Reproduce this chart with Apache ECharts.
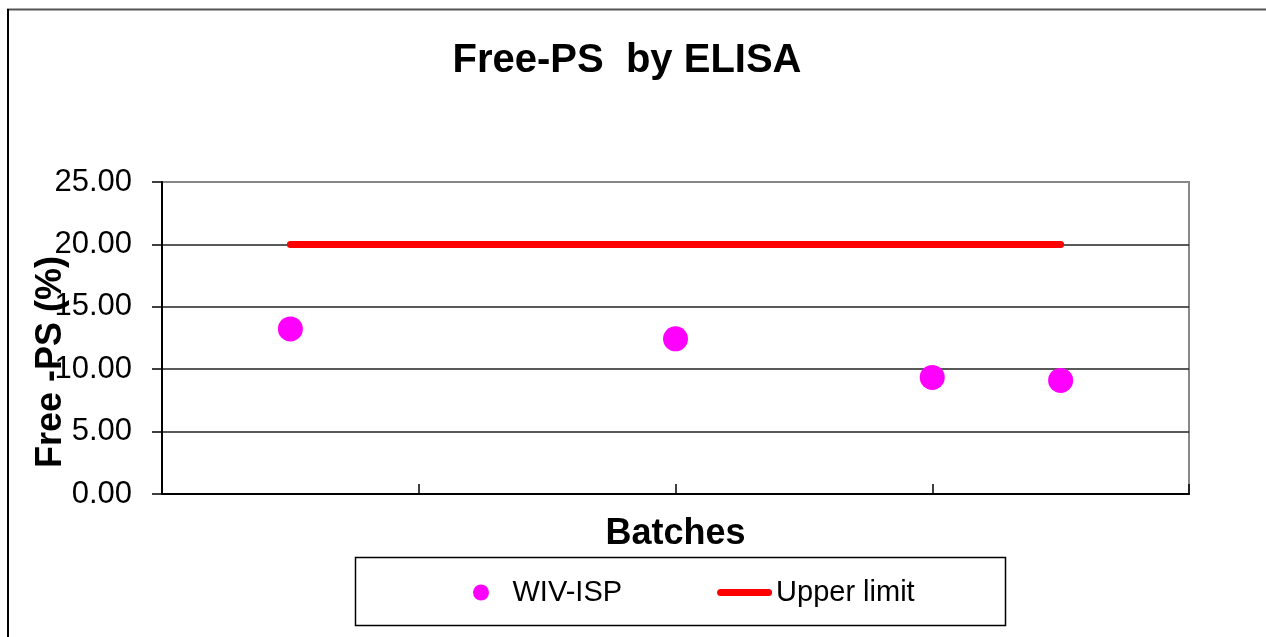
<!DOCTYPE html>
<html>
<head>
<meta charset="utf-8">
<title>Free-PS by ELISA</title>
<script src="https://cdn.jsdelivr.net/npm/echarts@6/dist/echarts.min.js"></script>
<style>
  html, body { margin: 0; padding: 0; background: #fff; }
  #chart { width: 1266px; height: 637px; }
</style>
</head>
<body>
<div id="chart"></div>
<script>
// Batch positions along the x axis and measured free-PS values (%)
const batchPositions = [1, 4, 6, 7];
const freePsValues = [13.23, 12.43, 9.34, 9.10];
// Specification limit drawn across the batch range
const upperLimitPositions = [1, 7];
const upperLimitValues = [20, 20];
const yTickValues = [0, 5, 10, 15, 20, 25];

const FONT = '"Liberation Sans", Arial, sans-serif';

const chart = echarts.init(document.getElementById('chart'), null, { renderer: 'canvas' });

const option = {
  backgroundColor: '#ffffff',
  animation: false,
  title: {
    text: 'Free-PS  by ELISA',
    left: 622,
    top: 36,
    textAlign: 'center',
    textStyle: { fontFamily: FONT, fontSize: 40, fontWeight: 'bold', color: '#000' }
  },
  grid: {
    left: 162, top: 182, right: 77, bottom: 143,
    show: true, borderColor: '#888', borderWidth: 2, backgroundColor: 'transparent'
  },
  legend: {
    left: 468, top: 573,
    itemWidth: 55, itemHeight: 16, itemGap: 95,
    symbolKeepAspect: true,
    textStyle: { fontFamily: FONT, fontSize: 29, color: '#000', padding: [0, 0, 0, -1] },
    data: [
      { name: 'WIV-ISP', icon: 'circle' },
      { name: 'Upper limit', icon: 'path://M3.5,0 H51.5 A3.5,3.5 0 0 1 51.5,7 H3.5 A3.5,3.5 0 0 1 3.5,0 Z' }
    ]
  },
  xAxis: {
    type: 'value', min: 0, max: 8, interval: 2,
    axisLine: { lineStyle: { color: '#000', width: 2 } },
    axisTick: { inside: true, length: 10, lineStyle: { color: '#000', width: 1.5 } },
    axisLabel: { show: false },
    splitLine: { show: false },
    name: 'Batches', nameLocation: 'middle', nameGap: 22,
    nameTextStyle: { fontFamily: FONT, fontSize: 36, fontWeight: 'bold', color: '#000' }
  },
  yAxis: {
    type: 'value', min: yTickValues[0], max: yTickValues[yTickValues.length - 1], interval: 5,
    axisLine: { show: true, lineStyle: { color: '#000', width: 2 } },
    axisTick: { show: true, length: 10, lineStyle: { color: '#000', width: 1.5 } },
    axisLabel: {
      margin: 30, fontFamily: FONT, fontSize: 31, color: '#000',
      formatter: v => v.toFixed(2)
    },
    splitLine: { show: true, showMaxLine: false, lineStyle: { color: '#222', width: 1.5 } }
  },
  graphic: [
    // outer frame lines
    { type: 'line', shape: { x1: 7, y1: 9.5, x2: 1266, y2: 9.5 }, style: { stroke: '#555', lineWidth: 2 }, z: 10 },
    { type: 'line', shape: { x1: 8, y1: 9, x2: 8, y2: 637 }, style: { stroke: '#000', lineWidth: 2 }, z: 10 },
    // legend frame
    { type: 'rect', shape: { x: 355.5, y: 557.5, width: 650, height: 68 }, style: { fill: 'none', stroke: '#000', lineWidth: 1.5 }, z: 10 },
    // y axis title
    {
      type: 'text', x: 51, y: 362, rotation: Math.PI / 2, z: 20,
      style: {
        text: 'Free -PS (%)', fontFamily: FONT, fontSize: 36, fontWeight: 'bold', fill: '#000',
        align: 'center', verticalAlign: 'middle'
      }
    }
  ],
  series: [
    {
      name: 'Upper limit',
      type: 'line',
      data: upperLimitPositions.map((x, i) => [x, upperLimitValues[i]]),
      symbol: 'none',
      lineStyle: { color: '#ff0000', width: 7, cap: 'round' },
      itemStyle: { color: '#ff0000' },
      z: 3
    },
    {
      name: 'WIV-ISP',
      type: 'scatter',
      data: batchPositions.map((x, i) => [x, freePsValues[i]]),
      symbol: 'circle',
      symbolSize: 25,
      itemStyle: { color: '#ff00ff', opacity: 1 },
      z: 4
    }
  ]
};

chart.setOption(option);
</script>
</body>
</html>
